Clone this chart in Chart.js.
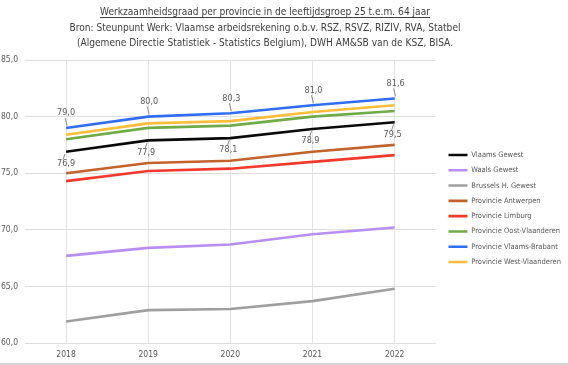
<!DOCTYPE html>
<html>
<head>
<meta charset="utf-8">
<script src="https://cdn.jsdelivr.net/npm/chart.js@4"></script>
<style>
  html, body { margin: 0; padding: 0; background: #fff; }
  .wrap { position: relative; width: 568px; height: 365px; overflow: hidden; }
  .titel { position: absolute; left: 0; top: 4px; width: 530px; text-align: center;
           font-family: "Liberation Sans Narrow", "DejaVu Sans Condensed", "Roboto", sans-serif;
           font-size: 10.1px; line-height: 15.5px; color: #404040; }
  .titel u { text-decoration-thickness: 1px; text-underline-offset: 2px; }
  canvas { position: absolute; left: 0; top: 0; }
  .rand { position: absolute; left: 0; right: 0; bottom: 0; height: 2px; background: #d4d4d4; }
</style>
</head>
<body>
<div class="wrap">
  <canvas id="grafiek" width="568" height="365"></canvas>
  <div class="titel">
    <u>Werkzaamheidsgraad per provincie in de leeftijdsgroep 25 t.e.m. 64 jaar</u><br>
    Bron: Steunpunt Werk: Vlaamse arbeidsrekening o.b.v. RSZ, RSVZ, RIZIV, RVA, Statbel<br>
    (Algemene Directie Statistiek - Statistics Belgium), DWH AM&amp;SB van de KSZ, BISA.
  </div>
  <div class="rand"></div>
</div>
<script>
/* werkzaamheidsgraad 25-64 jaar, per gewest/provincie */
const jaren = ["2018", "2019", "2020", "2021", "2022"];

const vlaamsGewest   = [76.9, 77.9, 78.1, 78.9, 79.5];
const waalsGewest    = [67.7, 68.4, 68.7, 69.6, 70.2];
const brusselsGewest = [61.9, 62.9, 63.0, 63.7, 64.8];
const antwerpen      = [75.0, 75.9, 76.1, 76.9, 77.5];
const limburg        = [74.3, 75.2, 75.4, 76.0, 76.6];
const oostVlaanderen = [78.0, 79.0, 79.2, 80.0, 80.5];
const vlaamsBrabant  = [79.0, 80.0, 80.3, 81.0, 81.6];
const westVlaanderen = [78.4, 79.4, 79.6, 80.4, 81.0];

const yTicks = [60, 65, 70, 75, 80, 85];

const reeksen = [
  ["Vlaams Gewest", vlaamsGewest, "#0a0a0a", "onder"],
  ["Waals Gewest", waalsGewest, "#b98ef4", null],
  ["Brussels H. Gewest", brusselsGewest, "#9f9f9f", null],
  ["Provincie Antwerpen", antwerpen, "#c2622c", null],
  ["Provincie Limburg", limburg, "#f23a2c", null],
  ["Provincie Oost-Vlaanderen", oostVlaanderen, "#6fab46", null],
  ["Provincie Vlaams-Brabant", vlaamsBrabant, "#2f6ef2", "boven"],
  ["Provincie West-Vlaanderen", westVlaanderen, "#fbbd3a", null],
];

const fmt = (v) => v.toFixed(1).replace(".", ",");
const FONT = "'Liberation Sans Narrow', 'DejaVu Sans Condensed', Roboto, sans-serif";

// waardelabels met kort verbindingslijntje (zoals in Excel)
const labelsPlugin = {
  id: "waardeLabels",
  afterDatasetsDraw(chart) {
    const ctx = chart.ctx;
    ctx.save();
    ctx.font = "9px " + FONT;
    ctx.fillStyle = "#595959";
    ctx.strokeStyle = "#8c8c8c";
    ctx.lineWidth = 1;
    ctx.textAlign = "center";
    ctx.textBaseline = "middle";
    chart.data.datasets.forEach((ds, i) => {
      if (!ds.labelPos) return;
      const meta = chart.getDatasetMeta(i);
      meta.data.forEach((pt, j) => {
        const up = ds.labelPos === "boven";
        const dx = j === 0 ? 0 : (up ? 1 : -2);
        const ly = up ? pt.y - 15 : pt.y + 12;
        ctx.beginPath();
        if (up) { ctx.moveTo(pt.x + 1, pt.y - 2); ctx.lineTo(pt.x - 1, pt.y - 10); }
        else { ctx.moveTo(pt.x - 1, pt.y + 2); ctx.lineTo(pt.x - 3, pt.y + 8); }
        ctx.stroke();
        ctx.fillText(fmt(ds.data[j]), pt.x + dx, ly);
      });
    });
    ctx.restore();
  },
};

// legenda iets verschuiven: meer ruimte tussen plot en legenda, zoals in het origineel
const legendaSchuif = {
  id: "legendaSchuif",
  afterLayout(chart) {
    const lg = chart.legend;
    if (!lg) return;
    lg.left += 5; lg.right += 5;
    lg.top -= 4; lg.bottom -= 4;
  },
};

new Chart(document.getElementById("grafiek"), {
  type: "line",
  data: {
    labels: jaren,
    datasets: reeksen.map(([naam, data, kleur, pos]) => ({
      label: naam,
      data,
      borderColor: kleur,
      backgroundColor: kleur,
      borderWidth: 2.6,
      pointRadius: 0,
      tension: 0,
      labelPos: pos,
    })),
  },
  options: {
    responsive: false,
    animation: false,
    layout: { padding: { top: 60, right: 2, left: 0, bottom: 0 } },
    plugins: {
      tooltip: { enabled: false },
      legend: {
        position: "right",
        align: "center",
        labels: {
          usePointStyle: true,
          pointStyle: "line",
          pointStyleWidth: 19,
          boxWidth: 19,
          boxHeight: 6,
          padding: 7.8,
          color: "#595959",
          font: { family: FONT, size: 7.5 },
        },
      },
    },
    scales: {
      x: {
        offset: true,
        afterFit: (s) => { s.height = 22; },
        grid: { color: "#e3e3e3", offset: false, drawTicks: false },
        border: { display: false },
        ticks: { color: "#595959", font: { family: FONT, size: 8.5 }, padding: 7 },
      },
      y: {
        min: 60, max: 85,
        afterFit: (s) => { s.width = 25; },
        afterBuildTicks: (s) => { s.ticks = yTicks.map((v) => ({ value: v })); },
        grid: { color: "#dedede", drawTicks: false },
        border: { display: false },
        ticks: { color: "#595959", font: { family: FONT, size: 8.5 }, padding: 7, callback: (v) => fmt(v) },
      },
    },
  },
  plugins: [labelsPlugin, legendaSchuif],
});
</script>
</body>
</html>
